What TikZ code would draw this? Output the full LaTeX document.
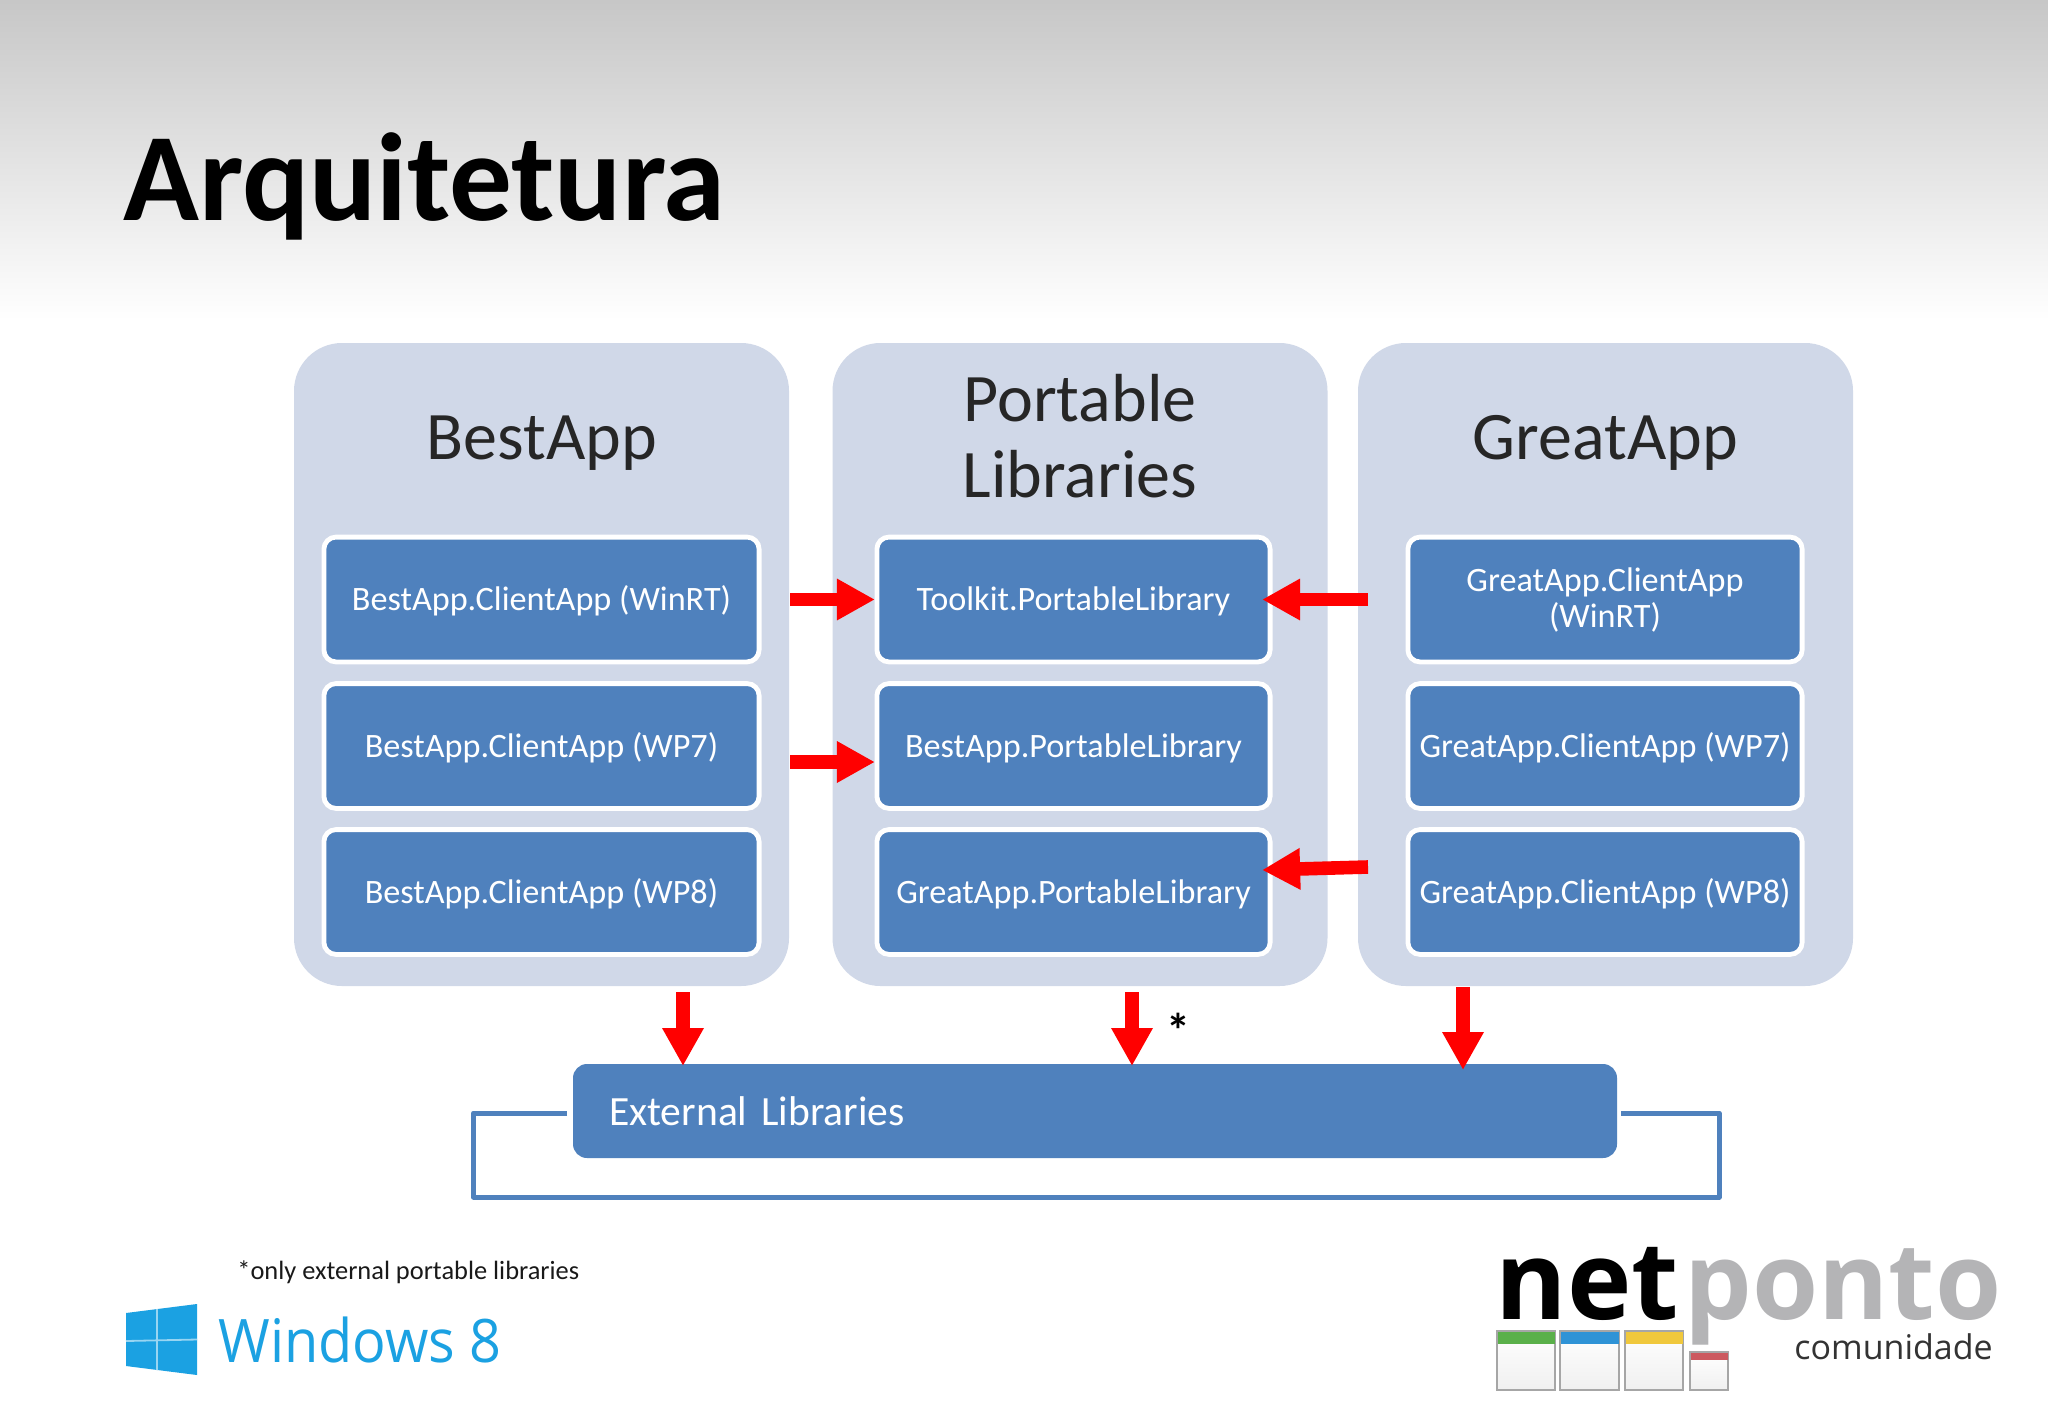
\documentclass[tikz,border=0pt]{standalone}
\usepackage{fontspec}
\setmainfont{Carlito}
\newfontfamily\opensans{Open Sans}
\newfontfamily\winfont[FakeStretch=0.93]{Open Sans}
\usetikzlibrary{arrows.meta,calc}
\definecolor{panelc}{HTML}{D0D8E8}
\definecolor{boxc}{HTML}{4F81BD}
\definecolor{winc}{HTML}{1BA1E2}
\definecolor{pontoc}{HTML}{B4B4B6}
\definecolor{calgreen}{HTML}{5AB04A}
\definecolor{calblue}{HTML}{2F93D6}
\definecolor{calyellow}{HTML}{F0C83C}
\definecolor{calred}{HTML}{CC5A60}
\tikzset{
  panel/.style={fill=panelc,rounded corners=24pt,minimum width=247.5pt,minimum height=321.5pt,inner sep=0pt,outer sep=0pt},
  paneltitle/.style={font=\fontsize{34}{38}\selectfont,text=black!85,align=center,inner sep=0pt},
  innerbox/.style={fill=boxc,draw=white,line width=2.4pt,rounded corners=6pt,minimum height=62.4pt,inner sep=0pt,outer sep=0pt,text=white,align=center,font=\fontsize{17.1}{18}\selectfont},
  oneline/.style={text height=14.7pt,text depth=3.3pt},
  leftbox/.style={innerbox,oneline,minimum width=217.6pt},
  midbox/.style={innerbox,oneline,minimum width=196.6pt},
  rightbox/.style={innerbox,minimum width=197.1pt},
  redarrow/.style={draw=red,line width=6.8pt,-{Triangle[width=19.5pt,length=19pt,fill=red]}},
  cal/.style={draw=black!35,line width=.6pt,top color=white,bottom color=black!6,inner sep=0pt,outer sep=0pt},
}
\begin{document}
\begin{tikzpicture}[x=.5pt,y=-.5pt]
\useasboundingbox (0,0) rectangle (2048,1418);
\fill[white] (0,0) rectangle (2048,1418);
\shade[top color=black!22,bottom color=white] (0,0) rectangle (2048,320);
\node[anchor=base west,inner sep=0pt,font=\fontsize{62.6}{62}\selectfont\bfseries,text=black] (title) at (123,220) {Arquitetura};

\node[panel] (pb) at (541.5,664.5) {};
\node[panel] (pm) at (1080,664.5) {};
\node[panel] (pg) at (1605.5,664.5) {};
\node[paneltitle] (tb) at (542,443) {BestApp};
\node[paneltitle] (tm) at (1080,436) {Portable\\Libraries};
\node[paneltitle] (tg) at (1605.5,443) {GreatApp};

\node[leftbox] (b1) at (541.5,599.5) {BestApp.ClientApp (WinRT)};
\node[leftbox] (b2) at (541.5,746) {BestApp.ClientApp (WP7)};
\node[leftbox] (b3) at (541.5,892) {BestApp.ClientApp (WP8)};
\node[midbox] (m1) at (1073.5,599.5) {Toolkit.PortableLibrary};
\node[midbox] (m2) at (1073.5,746) {BestApp.PortableLibrary};
\node[midbox] (m3) at (1073.5,892) {GreatApp.PortableLibrary};
\node[rightbox] (g1) at (1605,599.5) {GreatApp.ClientApp\\(WinRT)};
\node[rightbox,oneline] (g2) at (1605,746) {GreatApp.ClientApp (WP7)};
\node[rightbox,oneline] (g3) at (1605,892) {GreatApp.ClientApp (WP8)};

\node[fill=boxc,rounded corners=7pt,minimum width=522pt,minimum height=47pt,inner xsep=18pt,inner ysep=0pt,outer sep=0pt,text width=486pt,align=left,text=white,font=\fontsize{20.8}{24}\selectfont] (ext) at (1095,1111) {External Libraries};

\draw[boxc,line width=2.5pt,line join=round] ($(ext.west)+(-6,2)$) -- ++(-93.5,0) -- ++(0,84) -- ++(1245.5,0) -- ++(0,-84) -- ++(-98,0);

\coordinate (a1) at ($(pb.east |- m1.west)+(1,0)$);
\coordinate (a2) at ($(pb.east |- m2.west)+(1,16)$);
\draw[redarrow] (a1) -- ($(m1.west)+(-2,0)$);
\draw[redarrow] (a2) -- ($(m2.west |- a2)+(-2,0)$);
\draw[redarrow] ($(pg.west |- m1.east)+(10,0)$) -- ($(m1.east)+(-8,0)$);
\draw[redarrow] ($(pg.west |- m3.east)+(10,-25)$) -- ($(m3.east)+(-8,-22)$);
\coordinate (d1) at ($(pb.south)+(141.5,6)$);
\coordinate (d2) at ($(pm.south)+(52,6)$);
\coordinate (d3) at ($(pg.south)+(-142.5,1)$);
\draw[redarrow] (d1) -- ($(d1 |- ext.north)+(0,2)$);
\draw[redarrow] (d2) -- ($(d2 |- ext.north)+(0,2)$);
\draw[redarrow] (d3) -- ($(d3 |- ext.north)+(0,6)$);

\node[inner sep=0pt,font=\fontsize{24}{24}\selectfont\bfseries] (star) at (1178,1030) {*};
\node[anchor=base west,inner sep=0pt,font=\fontsize{13.2}{13}\selectfont,text=black!90] (foot) at (237,1279) {*only external portable libraries};

% Windows 8 logo
\fill[winc] (126,1313) -- (197,1304) -- (197,1375) -- (126,1366) -- cycle;
\draw[winc!45!white,line width=.9pt] (157,1309) -- (157,1370) (126,1341) -- (197,1339.5);
\node[anchor=base west,inner sep=0pt,font=\winfont\fontsize{30}{30}\selectfont,text=winc] (win) at (218,1362) {Windows 8};

% netponto logo
\node[anchor=base west,inner sep=0pt,font=\opensans\bfseries\fontsize{54.5}{54}\selectfont,text=black] (net) at (1495,1319) {net};
\node[anchor=base west,inner sep=0pt,font=\opensans\fontsize{53.5}{54}\selectfont\bfseries,text=pontoc] (ponto) at (1684,1319) {\raisebox{0pt}[\height][0pt]{ponto}};
\node[anchor=base west,inner sep=0pt,font=\opensans\fontsize{17}{17}\selectfont,text=black!80] (comu) at (1794,1359) {comunidade};

\draw[cal] (1497,1331) rectangle (1555,1390);
\fill[calgreen] (1497.5,1331.5) rectangle (1554.5,1344);
\draw[cal] (1560,1331) rectangle (1619,1390);
\fill[calblue] (1560.5,1331.5) rectangle (1618.5,1344);
\draw[cal] (1625,1331) rectangle (1683,1390);
\fill[calyellow] (1625.5,1331.5) rectangle (1682.5,1344);
\draw[cal] (1690,1352) rectangle (1728,1390);
\fill[calred] (1690.5,1352.5) rectangle (1727.5,1360);
\end{tikzpicture}
\end{document}
